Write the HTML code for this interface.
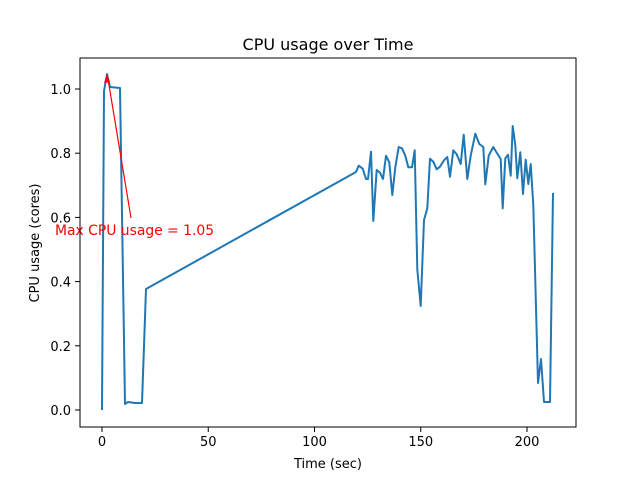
<!DOCTYPE html>
<html><head><meta charset="utf-8"><style>body{margin:0;background:#fff}</style></head><body>
<svg width="640" height="480" viewBox="0 0 640 480" font-family="DejaVu Sans, sans-serif" font-size="13">
<rect width="640" height="480" fill="#fff"/>
<polyline fill="none" stroke="#1f77b4" stroke-width="2" stroke-linejoin="round" points="102,410 104,91 107,74 110,87 120,88 125,404 128,402 135,403 142,403 146,289 356,172 358.7,165.7 362.7,168.7 366,179 368,179 371,151.7 373.3,221 376.7,170 380,172.7 383,179 386,155.7 389.3,162.3 392.3,195 395.3,167.3 398.7,147 402,148.3 405.3,155.7 408.3,167.3 412,167.3 414.7,150.3 417.3,269.3 420.7,306 424,220 427.3,208.3 430,158.7 433.3,161.7 436.7,169.3 440,166.7 444,160.3 447.3,157 450,176.7 453.3,150.3 456.7,154.3 460.7,164 463.7,134.7 467.3,179 470.7,155.7 475.3,133.7 479.3,144 483.3,147 485.3,184.3 488.7,155.7 493.3,147 496.7,152.7 500.7,159 502.7,208.3 505.3,158.3 508,154.7 510.7,175.7 512.7,126 515.3,145 517.3,178.3 520.3,152.3 523,194 525.7,159.7 528.3,184 530.7,164 533.3,205 538,383 541,359 544,402 550,402 553,193"/>
<line x1="131" y1="218" x2="108" y2="79" stroke="red" stroke-width="1.2"/>
<polygon points="107,74 104,83 110,82" fill="red"/>
<text x="55" y="235" fill="red" font-size="13.9">Max CPU usage = 1.05</text>
<rect x="80" y="58" width="496" height="369" fill="none" stroke="#000" stroke-width="1"/>
<g stroke="#000" stroke-width="1">
<line x1="102" y1="427" x2="102" y2="432"/><line x1="208.25" y1="427" x2="208.25" y2="432"/><line x1="314.5" y1="427" x2="314.5" y2="432"/><line x1="420.75" y1="427" x2="420.75" y2="432"/><line x1="527" y1="427" x2="527" y2="432"/>
<line x1="75" y1="410" x2="80" y2="410"/><line x1="75" y1="345.8" x2="80" y2="345.8"/><line x1="75" y1="281.6" x2="80" y2="281.6"/><line x1="75" y1="217.4" x2="80" y2="217.4"/><line x1="75" y1="153.2" x2="80" y2="153.2"/><line x1="75" y1="89" x2="80" y2="89"/>
</g>
<g text-anchor="middle">
<text x="102" y="446">0</text><text x="208.25" y="446">50</text><text x="314.5" y="446">100</text><text x="420.75" y="446">150</text><text x="527" y="446">200</text>
<text x="328" y="468">Time (sec)</text>
<text x="328" y="50" font-size="16">CPU usage over Time</text>
</g>
<g text-anchor="end">
<text x="71" y="415">0.0</text><text x="71" y="350.8">0.2</text><text x="71" y="286.6">0.4</text><text x="71" y="222.4">0.6</text><text x="71" y="158.2">0.8</text><text x="71" y="94">1.0</text>
</g>
<text transform="translate(39,243) rotate(-90)" text-anchor="middle">CPU usage (cores)</text>
</svg>
</body></html>
